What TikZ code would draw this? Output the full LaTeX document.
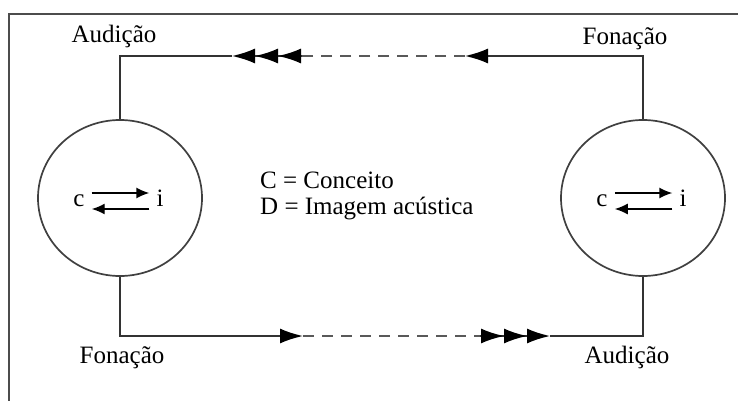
\documentclass[tikz,border=0pt]{standalone}
\usepackage{fontspec}
\setmainfont{Liberation Serif}
\usetikzlibrary{arrows.meta,shapes.geometric}

\tikzset{
  linha/.style={line width=1.7pt,draw=black!80},
  tracejado/.style={line width=1.7pt,draw=black!65,dash pattern=on 11pt off 8pt},
  ponta/.style={-{Latex[length=23pt,width=15pt,color=black]}},
  pontas/.style={-{Latex[length=23pt,width=15pt,color=black]Latex[length=23pt,width=15pt,color=black]Latex[length=23pt,width=15pt,color=black]}},
  seta/.style={line width=1.4pt,-{Latex[length=13pt,width=11pt,color=black]},shorten <=7pt,shorten >=7pt},
  mente/.style={ellipse,draw=black!75,line width=1.7pt,minimum width=164pt,minimum height=156pt},
  rotulo/.style={font=\fontsize{25}{28}\selectfont,anchor=base,inner sep=0pt},
  letra/.style={rotulo,text height=12pt,text depth=0pt},
}

\begin{document}
\begin{tikzpicture}[x=1pt,y=-1pt]
  \useasboundingbox (0,0) rectangle (738,401);
  \draw[line width=2.5pt,draw=black!70] (9,401) -- (9,14) -- (738,14);

  % the two speakers
  \node[mente] (A) at (120,198) {};
  \node[mente] (B) at (643,198) {};
  \foreach \m in {A,B}
  { \node[letra] (\m c) at ([xshift=-41pt,yshift=-8pt]\m.center) {c};
    \node[letra] (\m i) at ([xshift=40pt,yshift=-8pt]\m.center) {i};
    \draw[seta] ([yshift=7pt]\m c.east) -- ([yshift=7pt]\m i.west);
    \draw[seta] ([yshift=-9pt]\m i.west) -- ([yshift=-9pt]\m c.east); }

  \node[rotulo] (ta) at (114,43) {Audição};
  \node[rotulo] (tf) at (625,45) {Fonação};
  \node[rotulo] (bf) at (122,363) {Fonação};
  \node[rotulo] (ba) at (627,363) {Audição};
  \node[rotulo,anchor=base west] (leg1) at (260,188) {C = Conceito};
  \node[rotulo,anchor=base west] (leg2) at (260,214) {D = Imagem acústica};

  \coordinate (t1) at (465,56);
  \coordinate (t2) at (302,56);
  \coordinate (t3) at (232,56);
  \coordinate (b1) at (303,336);
  \coordinate (b2) at (480,336);
  \coordinate (b3) at (550,336);

  \draw[linha,ponta] (B.north) |- (t1);
  \draw[tracejado] (t1) -- (t2);
  \draw[linha,pontas] (t2) -- (t3);
  \draw[linha] (t3) -| (A.north);

  \draw[linha,ponta] (A.south) |- (b1);
  \draw[tracejado] (b1) -- (b2);
  \draw[linha,pontas] (b2) -- (b3);
  \draw[linha] (b3) -| (B.south);
\end{tikzpicture}
\end{document}
